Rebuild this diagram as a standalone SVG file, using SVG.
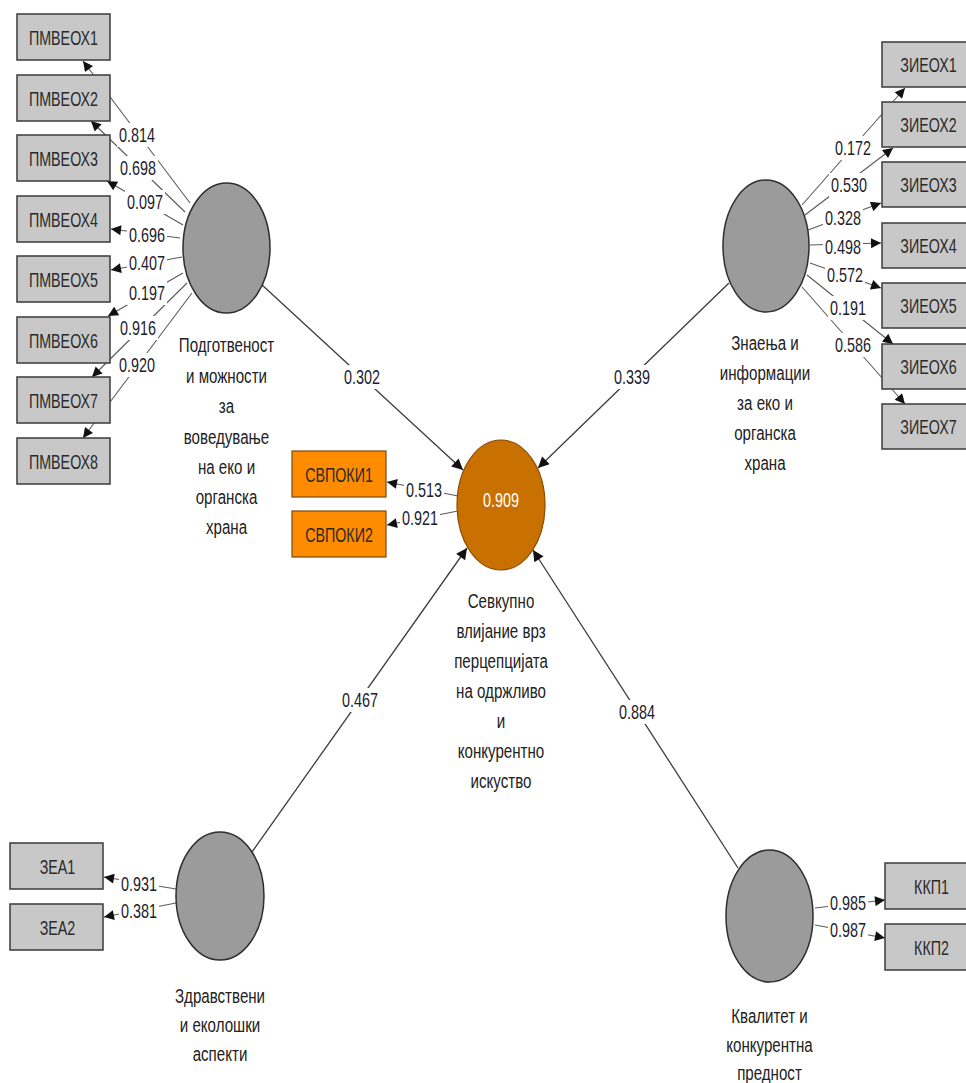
<svg xmlns="http://www.w3.org/2000/svg" width="966" height="1083" viewBox="0 0 966 1083">
<defs>
<style>
.bg{fill:#ffffff}
.ind{stroke:#5a5a5a;stroke-width:1.1;fill:none;marker-end:url(#ah)}
.str{stroke:#3c3c3c;stroke-width:1.3;fill:none;marker-end:url(#ahs)}
.lb{fill:#ffffff;stroke:none}
.num{font-family:"Liberation Sans",Arial,sans-serif;font-size:20px;fill:#1c1c2c;text-anchor:middle}
.box{fill:#c8c8c8;stroke:#3a3a3a;stroke-width:1.5}
.obox{fill:#ff8c00;stroke:#7a4a10;stroke-width:1.2}
.bt{font-family:"Liberation Sans",Arial,sans-serif;font-size:21px;fill:#2a2a2a;text-anchor:middle}
.lv{fill:#9b9b9b;stroke:#2e2e2e;stroke-width:1.5}
.lvc{fill:#c87000;stroke:#8a4a00;stroke-width:1.2}
.nl{font-family:"Liberation Sans",Arial,sans-serif;font-size:21px;fill:#222222;text-anchor:middle}
.r2{font-family:"Liberation Sans",Arial,sans-serif;font-size:20px;fill:#ffffff;text-anchor:middle}
</style>
<marker id="ah" viewBox="0 0 10 10" refX="10" refY="5" markerWidth="12" markerHeight="10" markerUnits="userSpaceOnUse" orient="auto"><path d="M0,0 L10,5 L0,10 z" fill="#111111"/></marker>
<marker id="ahs" viewBox="0 0 10 10" refX="10" refY="5" markerWidth="14" markerHeight="11" markerUnits="userSpaceOnUse" orient="auto"><path d="M0,0 L10,5 L0,10 z" fill="#111111"/></marker>
</defs>
<rect class="bg" x="0" y="0" width="966" height="1083"/>

<g id="connectors">
  <line class="ind" x1="190" y1="203" x2="83" y2="61"/>
  <line class="ind" x1="185" y1="212" x2="91" y2="121"/>
  <line class="ind" x1="183" y1="225" x2="107" y2="181"/>
  <line class="ind" x1="180" y1="238" x2="111" y2="229"/>
  <line class="ind" x1="182" y1="257" x2="111" y2="270"/>
  <line class="ind" x1="183" y1="273" x2="108" y2="316"/>
  <line class="ind" x1="187" y1="283" x2="92" y2="377"/>
  <line class="ind" x1="192" y1="293" x2="83" y2="438"/>
  <line class="ind" x1="802" y1="205" x2="905" y2="88"/>
  <line class="ind" x1="805" y1="215" x2="893" y2="148"/>
  <line class="ind" x1="808" y1="230" x2="881" y2="203"/>
  <line class="ind" x1="810" y1="245" x2="881" y2="243"/>
  <line class="ind" x1="810" y1="263" x2="881" y2="288"/>
  <line class="ind" x1="807" y1="275" x2="893" y2="344"/>
  <line class="ind" x1="802" y1="287" x2="905" y2="404"/>
  <line class="ind" x1="458" y1="496" x2="387" y2="482"/>
  <line class="ind" x1="458" y1="511" x2="387" y2="525"/>
  <line class="ind" x1="176" y1="889" x2="104" y2="877"/>
  <line class="ind" x1="176" y1="903" x2="104" y2="917"/>
  <line class="ind" x1="815" y1="908" x2="885" y2="900"/>
  <line class="ind" x1="815" y1="925" x2="885" y2="938"/>
  <line class="str" x1="261" y1="284" x2="463" y2="470"/>
  <line class="str" x1="729" y1="283" x2="538" y2="468"/>
  <line class="str" x1="252" y1="852" x2="467" y2="548"/>
  <line class="str" x1="738" y1="868" x2="533" y2="550"/>

  <g id="labels">
    <rect class="lb" x="117" y="123" width="40" height="24"/><text class="num" transform="translate(137 0) scale(0.72 1)" x="0" y="142">0.814</text>
    <rect class="lb" x="118" y="156" width="40" height="24"/><text class="num" transform="translate(138 0) scale(0.72 1)" x="0" y="175">0.698</text>
    <rect class="lb" x="125" y="190" width="40" height="24"/><text class="num" transform="translate(145 0) scale(0.72 1)" x="0" y="209">0.097</text>
    <rect class="lb" x="127" y="223" width="40" height="24"/><text class="num" transform="translate(147 0) scale(0.72 1)" x="0" y="242">0.696</text>
    <rect class="lb" x="127" y="251" width="40" height="24"/><text class="num" transform="translate(147 0) scale(0.72 1)" x="0" y="270">0.407</text>
    <rect class="lb" x="127" y="281" width="40" height="24"/><text class="num" transform="translate(147 0) scale(0.72 1)" x="0" y="300">0.197</text>
    <rect class="lb" x="118" y="316" width="40" height="24"/><text class="num" transform="translate(138 0) scale(0.72 1)" x="0" y="335">0.916</text>
    <rect class="lb" x="117" y="353" width="40" height="24"/><text class="num" transform="translate(137 0) scale(0.72 1)" x="0" y="372">0.920</text>

    <rect class="lb" x="833" y="136" width="40" height="24"/><text class="num" transform="translate(853 0) scale(0.72 1)" x="0" y="155">0.172</text>
    <rect class="lb" x="829" y="173" width="40" height="24"/><text class="num" transform="translate(849 0) scale(0.72 1)" x="0" y="192">0.530</text>
    <rect class="lb" x="823" y="206" width="40" height="24"/><text class="num" transform="translate(843 0) scale(0.72 1)" x="0" y="225">0.328</text>
    <rect class="lb" x="823" y="235" width="40" height="24"/><text class="num" transform="translate(843 0) scale(0.72 1)" x="0" y="254">0.498</text>
    <rect class="lb" x="825" y="263" width="40" height="24"/><text class="num" transform="translate(845 0) scale(0.72 1)" x="0" y="282">0.572</text>
    <rect class="lb" x="828" y="296" width="40" height="24"/><text class="num" transform="translate(848 0) scale(0.72 1)" x="0" y="315">0.191</text>
    <rect class="lb" x="833" y="333" width="40" height="24"/><text class="num" transform="translate(853 0) scale(0.72 1)" x="0" y="352">0.586</text>

    <rect class="lb" x="404" y="479" width="40" height="22"/><text class="num" transform="translate(424 0) scale(0.72 1)" x="0" y="497">0.513</text>
    <rect class="lb" x="400" y="507" width="40" height="22"/><text class="num" transform="translate(420 0) scale(0.72 1)" x="0" y="525">0.921</text>

    <rect class="lb" x="119" y="873" width="40" height="22"/><text class="num" transform="translate(139 0) scale(0.72 1)" x="0" y="891">0.931</text>
    <rect class="lb" x="119" y="900" width="40" height="22"/><text class="num" transform="translate(139 0) scale(0.72 1)" x="0" y="918">0.381</text>

    <rect class="lb" x="828" y="892" width="40" height="22"/><text class="num" transform="translate(848 0) scale(0.72 1)" x="0" y="910">0.985</text>
    <rect class="lb" x="828" y="919" width="40" height="22"/><text class="num" transform="translate(848 0) scale(0.72 1)" x="0" y="937">0.987</text>

    <rect class="lb" x="342" y="365" width="40" height="24"/><text class="num" transform="translate(362 0) scale(0.72 1)" x="0" y="384">0.302</text>
    <rect class="lb" x="612" y="365" width="40" height="24"/><text class="num" transform="translate(632 0) scale(0.72 1)" x="0" y="384">0.339</text>
    <rect class="lb" x="340" y="688" width="40" height="24"/><text class="num" transform="translate(360 0) scale(0.72 1)" x="0" y="707">0.467</text>
    <rect class="lb" x="617" y="700" width="40" height="24"/><text class="num" transform="translate(637 0) scale(0.72 1)" x="0" y="719">0.884</text>
  </g>
</g>

<g id="PMVEOX1"><rect class="box" x="17" y="14" width="93" height="46"/><text class="bt" transform="translate(63.5 0) scale(0.68 1)" x="0" y="45">ПМВЕОХ1</text></g>
<g id="PMVEOX2"><rect class="box" x="17" y="75" width="93" height="46"/><text class="bt" transform="translate(63.5 0) scale(0.68 1)" x="0" y="106">ПМВЕОХ2</text></g>
<g id="PMVEOX3"><rect class="box" x="17" y="135" width="93" height="46"/><text class="bt" transform="translate(63.5 0) scale(0.68 1)" x="0" y="166">ПМВЕОХ3</text></g>
<g id="PMVEOX4"><rect class="box" x="17" y="196" width="93" height="46"/><text class="bt" transform="translate(63.5 0) scale(0.68 1)" x="0" y="227">ПМВЕОХ4</text></g>
<g id="PMVEOX5"><rect class="box" x="17" y="256" width="93" height="46"/><text class="bt" transform="translate(63.5 0) scale(0.68 1)" x="0" y="287">ПМВЕОХ5</text></g>
<g id="PMVEOX6"><rect class="box" x="17" y="317" width="93" height="46"/><text class="bt" transform="translate(63.5 0) scale(0.68 1)" x="0" y="348">ПМВЕОХ6</text></g>
<g id="PMVEOX7"><rect class="box" x="17" y="377" width="93" height="46"/><text class="bt" transform="translate(63.5 0) scale(0.68 1)" x="0" y="408">ПМВЕОХ7</text></g>
<g id="PMVEOX8"><rect class="box" x="17" y="438" width="93" height="46"/><text class="bt" transform="translate(63.5 0) scale(0.68 1)" x="0" y="469">ПМВЕОХ8</text></g>

<g id="ZIEOX1"><rect class="box" x="882" y="42" width="93" height="45"/><text class="bt" transform="translate(928.5 0) scale(0.68 1)" x="0" y="72">ЗИЕОХ1</text></g>
<g id="ZIEOX2"><rect class="box" x="882" y="102" width="93" height="45"/><text class="bt" transform="translate(928.5 0) scale(0.68 1)" x="0" y="132">ЗИЕОХ2</text></g>
<g id="ZIEOX3"><rect class="box" x="882" y="162" width="93" height="45"/><text class="bt" transform="translate(928.5 0) scale(0.68 1)" x="0" y="192">ЗИЕОХ3</text></g>
<g id="ZIEOX4"><rect class="box" x="882" y="223" width="93" height="45"/><text class="bt" transform="translate(928.5 0) scale(0.68 1)" x="0" y="253">ЗИЕОХ4</text></g>
<g id="ZIEOX5"><rect class="box" x="882" y="283" width="93" height="45"/><text class="bt" transform="translate(928.5 0) scale(0.68 1)" x="0" y="313">ЗИЕОХ5</text></g>
<g id="ZIEOX6"><rect class="box" x="882" y="344" width="93" height="45"/><text class="bt" transform="translate(928.5 0) scale(0.68 1)" x="0" y="374">ЗИЕОХ6</text></g>
<g id="ZIEOX7"><rect class="box" x="882" y="404" width="93" height="45"/><text class="bt" transform="translate(928.5 0) scale(0.68 1)" x="0" y="434">ЗИЕОХ7</text></g>

<g id="SVPOKI1"><rect class="obox" x="292" y="451" width="94" height="46"/><text class="bt" transform="translate(339 0) scale(0.68 1)" x="0" y="482">СВПОКИ1</text></g>
<g id="SVPOKI2"><rect class="obox" x="292" y="511" width="94" height="46"/><text class="bt" transform="translate(339 0) scale(0.68 1)" x="0" y="542">СВПОКИ2</text></g>

<g id="ZEA1"><rect class="box" x="10" y="843" width="93" height="46"/><text class="bt" transform="translate(57.5 0) scale(0.68 1)" x="0" y="874">ЗЕА1</text></g>
<g id="ZEA2"><rect class="box" x="10" y="904" width="93" height="46"/><text class="bt" transform="translate(57.5 0) scale(0.68 1)" x="0" y="935">ЗЕА2</text></g>

<g id="KKP1"><rect class="box" x="885" y="863" width="93" height="46"/><text class="bt" transform="translate(931.5 0) scale(0.68 1)" x="0" y="894">ККП1</text></g>
<g id="KKP2"><rect class="box" x="885" y="924" width="93" height="46"/><text class="bt" transform="translate(931.5 0) scale(0.68 1)" x="0" y="955">ККП2</text></g>

<g id="LV-podgotvenost">
  <ellipse class="lv" cx="226.5" cy="248" rx="43.5" ry="65"/>
  <text class="nl" transform="translate(226.5 0) scale(0.72 1)"><tspan x="0" y="352">Подготвеност</tspan><tspan x="0" y="383">и можности</tspan><tspan x="0" y="413">за</tspan><tspan x="0" y="444">воведување</tspan><tspan x="0" y="474">на еко и</tspan><tspan x="0" y="504">органска</tspan><tspan x="0" y="534">храна</tspan></text>
</g>
<g id="LV-znaenja">
  <ellipse class="lv" cx="766" cy="246" rx="43" ry="66"/>
  <text class="nl" transform="translate(765 0) scale(0.72 1)"><tspan x="0" y="350">Знаења и</tspan><tspan x="0" y="380">информации</tspan><tspan x="0" y="410">за еко и</tspan><tspan x="0" y="440">органска</tspan><tspan x="0" y="470">храна</tspan></text>
</g>
<g id="LV-sevkupno">
  <ellipse class="lvc" cx="501" cy="505" rx="44" ry="65"/>
  <text class="r2" transform="translate(501 0) scale(0.72 1)" x="0" y="507">0.909</text>
  <text class="nl" transform="translate(501 0) scale(0.72 1)"><tspan x="0" y="608">Севкупно</tspan><tspan x="0" y="638">влијание врз</tspan><tspan x="0" y="668">перцепцијата</tspan><tspan x="0" y="698">на одржливо</tspan><tspan x="0" y="728">и</tspan><tspan x="0" y="758">конкурентно</tspan><tspan x="0" y="788">искуство</tspan></text>
</g>
<g id="LV-zdravstveni">
  <ellipse class="lv" cx="220" cy="896" rx="44" ry="64"/>
  <text class="nl" transform="translate(220 0) scale(0.72 1)"><tspan x="0" y="1003">Здравствени</tspan><tspan x="0" y="1032">и еколошки</tspan><tspan x="0" y="1061">аспекти</tspan></text>
</g>
<g id="LV-kvalitet">
  <ellipse class="lv" cx="769.5" cy="916" rx="43.5" ry="66"/>
  <text class="nl" transform="translate(769.5 0) scale(0.72 1)"><tspan x="0" y="1023">Квалитет и</tspan><tspan x="0" y="1052">конкурентна</tspan><tspan x="0" y="1080">предност</tspan></text>
</g>
</svg>
